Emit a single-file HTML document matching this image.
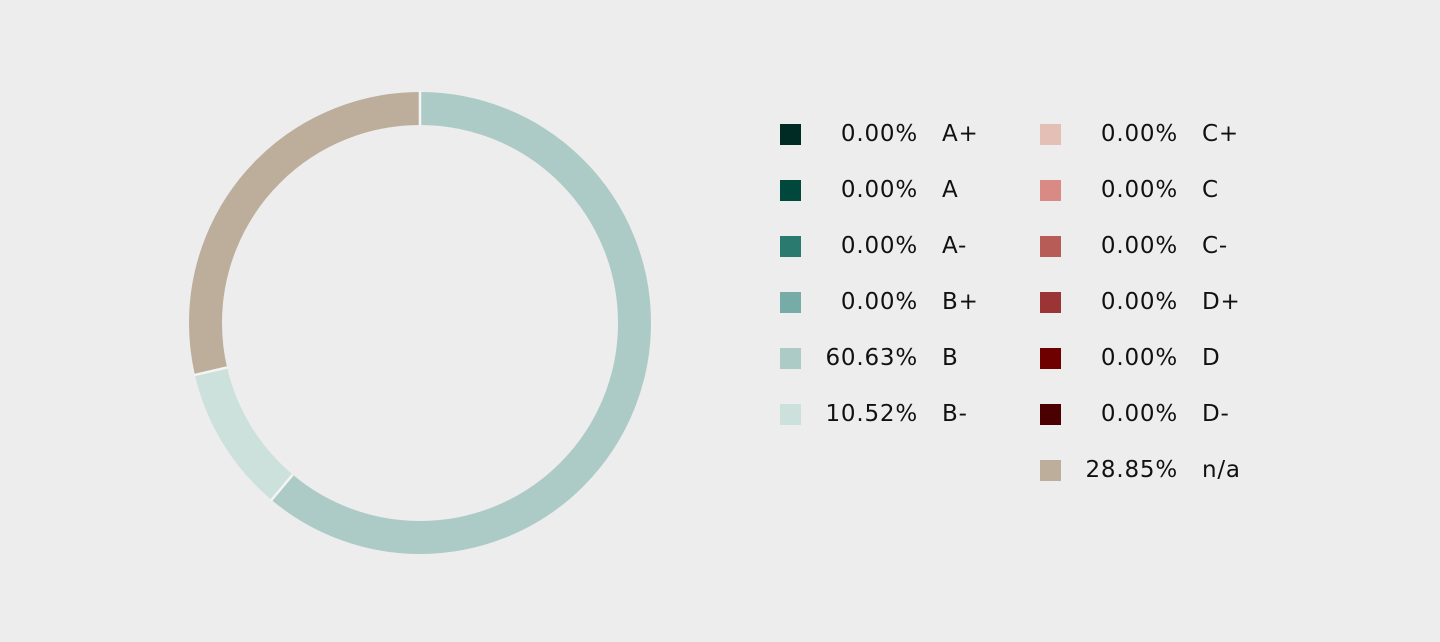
<!DOCTYPE html>
<html><head><meta charset="utf-8"><style>
html,body{margin:0;padding:0;background:#ededed;}
body{width:1440px;height:642px;position:relative;overflow:hidden;font-family:"DejaVu Sans","Liberation Sans",sans-serif;}
.sq{position:absolute;width:21px;height:21px;}
.pc{position:absolute;width:140px;text-align:right;font-size:23px;color:#111;line-height:28px;letter-spacing:0.8px;}
.lb{position:absolute;font-size:23px;color:#111;line-height:28px;letter-spacing:0.8px;}
</style></head><body>
<svg width="1440" height="642" style="position:absolute;left:0;top:0">
<g transform="rotate(-90 420 323)" fill="none" stroke-width="33">
<circle cx="420" cy="323" r="214.5" stroke="#adcbc6" stroke-dasharray="823.7 2000" stroke-dashoffset="0"/>
<circle cx="420" cy="323" r="214.5" stroke="#cce0dc" stroke-dasharray="138.4 2000" stroke-dashoffset="-823.7"/>
<circle cx="420" cy="323" r="214.5" stroke="#bdae9b" stroke-dasharray="385.6 2000" stroke-dashoffset="-962.1"/>
</g>
<g stroke="#f4f4f4" stroke-width="2.5">
<line x1="420" y1="91" x2="420" y2="126"/>
<line x1="292.7" y1="474.7" x2="270.8" y2="500.8"/>
<line x1="227.1" y1="367.5" x2="193.9" y2="375.2"/>
</g>
</svg>
<div class="sq" style="left:780px;top:124px;background:#002b25"></div><div class="pc" style="left:778px;top:120px">0.00%</div><div class="lb" style="left:942px;top:120px">A+</div>
<div class="sq" style="left:780px;top:180px;background:#00473c"></div><div class="pc" style="left:778px;top:176px">0.00%</div><div class="lb" style="left:942px;top:176px">A</div>
<div class="sq" style="left:780px;top:236px;background:#2a7a70"></div><div class="pc" style="left:778px;top:232px">0.00%</div><div class="lb" style="left:942px;top:232px">A-</div>
<div class="sq" style="left:780px;top:292px;background:#76aba8"></div><div class="pc" style="left:778px;top:288px">0.00%</div><div class="lb" style="left:942px;top:288px">B+</div>
<div class="sq" style="left:780px;top:348px;background:#adcbc6"></div><div class="pc" style="left:778px;top:344px">60.63%</div><div class="lb" style="left:942px;top:344px">B</div>
<div class="sq" style="left:780px;top:404px;background:#cce0dc"></div><div class="pc" style="left:778px;top:400px">10.52%</div><div class="lb" style="left:942px;top:400px">B-</div>
<div class="sq" style="left:1040px;top:124px;background:#e3bfb5"></div><div class="pc" style="left:1038px;top:120px">0.00%</div><div class="lb" style="left:1202px;top:120px">C+</div>
<div class="sq" style="left:1040px;top:180px;background:#d98a85"></div><div class="pc" style="left:1038px;top:176px">0.00%</div><div class="lb" style="left:1202px;top:176px">C</div>
<div class="sq" style="left:1040px;top:236px;background:#b85c58"></div><div class="pc" style="left:1038px;top:232px">0.00%</div><div class="lb" style="left:1202px;top:232px">C-</div>
<div class="sq" style="left:1040px;top:292px;background:#9b3535"></div><div class="pc" style="left:1038px;top:288px">0.00%</div><div class="lb" style="left:1202px;top:288px">D+</div>
<div class="sq" style="left:1040px;top:348px;background:#6e0000"></div><div class="pc" style="left:1038px;top:344px">0.00%</div><div class="lb" style="left:1202px;top:344px">D</div>
<div class="sq" style="left:1040px;top:404px;background:#4a0000"></div><div class="pc" style="left:1038px;top:400px">0.00%</div><div class="lb" style="left:1202px;top:400px">D-</div>
<div class="sq" style="left:1040px;top:460px;background:#bdae9b"></div><div class="pc" style="left:1038px;top:456px">28.85%</div><div class="lb" style="left:1202px;top:456px">n/a</div>
</body></html>
